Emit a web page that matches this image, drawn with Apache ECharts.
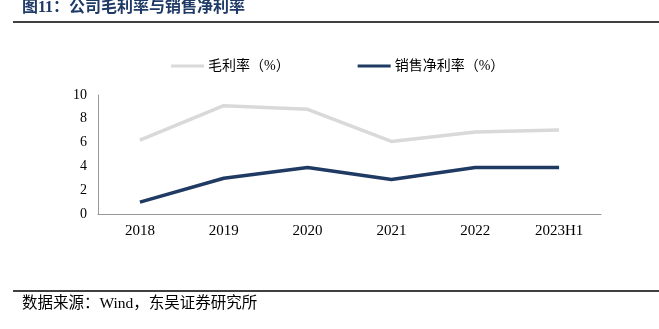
<!DOCTYPE html>
<html><head><meta charset="utf-8">
<script src="https://cdn.jsdelivr.net/npm/echarts@6/dist/echarts.min.js"></script>
<style>html,body{margin:0;padding:0;background:#fff}#c{width:659px;height:329px}</style>
</head><body><div id="c"></div>
<script>
const categories = ['2018','2019','2020','2021','2022','2023H1'];
const grossMargin = [6.2, 9.1, 8.8, 6.1, 6.9, 7.05];
const netMargin = [1.0, 3.0, 3.9, 2.9, 3.9, 3.9];
const yTicks = [0, 2, 4, 6, 8, 10];

const chart = echarts.init(document.getElementById('c'));
const serif = '"Liberation Serif","Times New Roman",serif';
const cjk = '"Liberation Serif","Noto Sans CJK SC",serif';
chart.setOption({
  animation: false,
  graphic: [
    {type:'text', left: 22, top: 0, style:{text:'图11：公司毛利率与销售净利率', font:'bold 16px "Liberation Serif","Noto Sans CJK SC",serif', fill:'#1f3a66'}},
    {type:'line', shape:{x1:13,y1:22,x2:659,y2:22}, style:{stroke:'#000', lineWidth:1.5}},
    {type:'line', shape:{x1:13,y1:291,x2:659,y2:291}, style:{stroke:'#000', lineWidth:1.5}},
    {type:'text', left: 22, top: 296, style:{text:'数据来源：Wind，东吴证券研究所', font:'15.5px "Liberation Serif","Noto Sans CJK SC",serif', fill:'#000'}}
  ],
  legend: {
    top: 54, left: 166, itemGap: 68, itemWidth: 33, itemHeight: 3,
    icon: 'rect',
    textStyle: {fontFamily: cjk, fontSize: 14, color: '#000', padding: [0,0,0,-1]},
    data: ['毛利率（%）', '销售净利率（%）']
  },
  grid: {left: 98, right: 58, top: 95, bottom: 115, containLabel: false},
  xAxis: {
    type: 'category', data: categories, boundaryGap: true,
    axisLine: {lineStyle: {color: '#999', width: 1}},
    axisTick: {inside: true, length: 4, lineStyle: {color: '#999'}},
    axisLabel: {fontFamily: serif, fontSize: 15, color: '#000', margin: 10}
  },
  yAxis: {
    type: 'value', min: 0, max: 10, interval: 2,
    axisLine: {show: true, lineStyle: {color: '#999'}},
    axisTick: {show: false},
    splitLine: {show: false},
    axisLabel: {fontFamily: serif, fontSize: 14, color: '#000', margin: 11}
  },
  series: [
    {name: '毛利率（%）', type: 'line', data: grossMargin, symbol: 'none',
     lineStyle: {color: '#d9d9d9', width: 3.5}, itemStyle: {color: '#d9d9d9'}},
    {name: '销售净利率（%）', type: 'line', data: netMargin, symbol: 'none',
     lineStyle: {color: '#1f3a63', width: 3.5}, itemStyle: {color: '#1f3a63'}}
  ]
});
</script></body></html>
